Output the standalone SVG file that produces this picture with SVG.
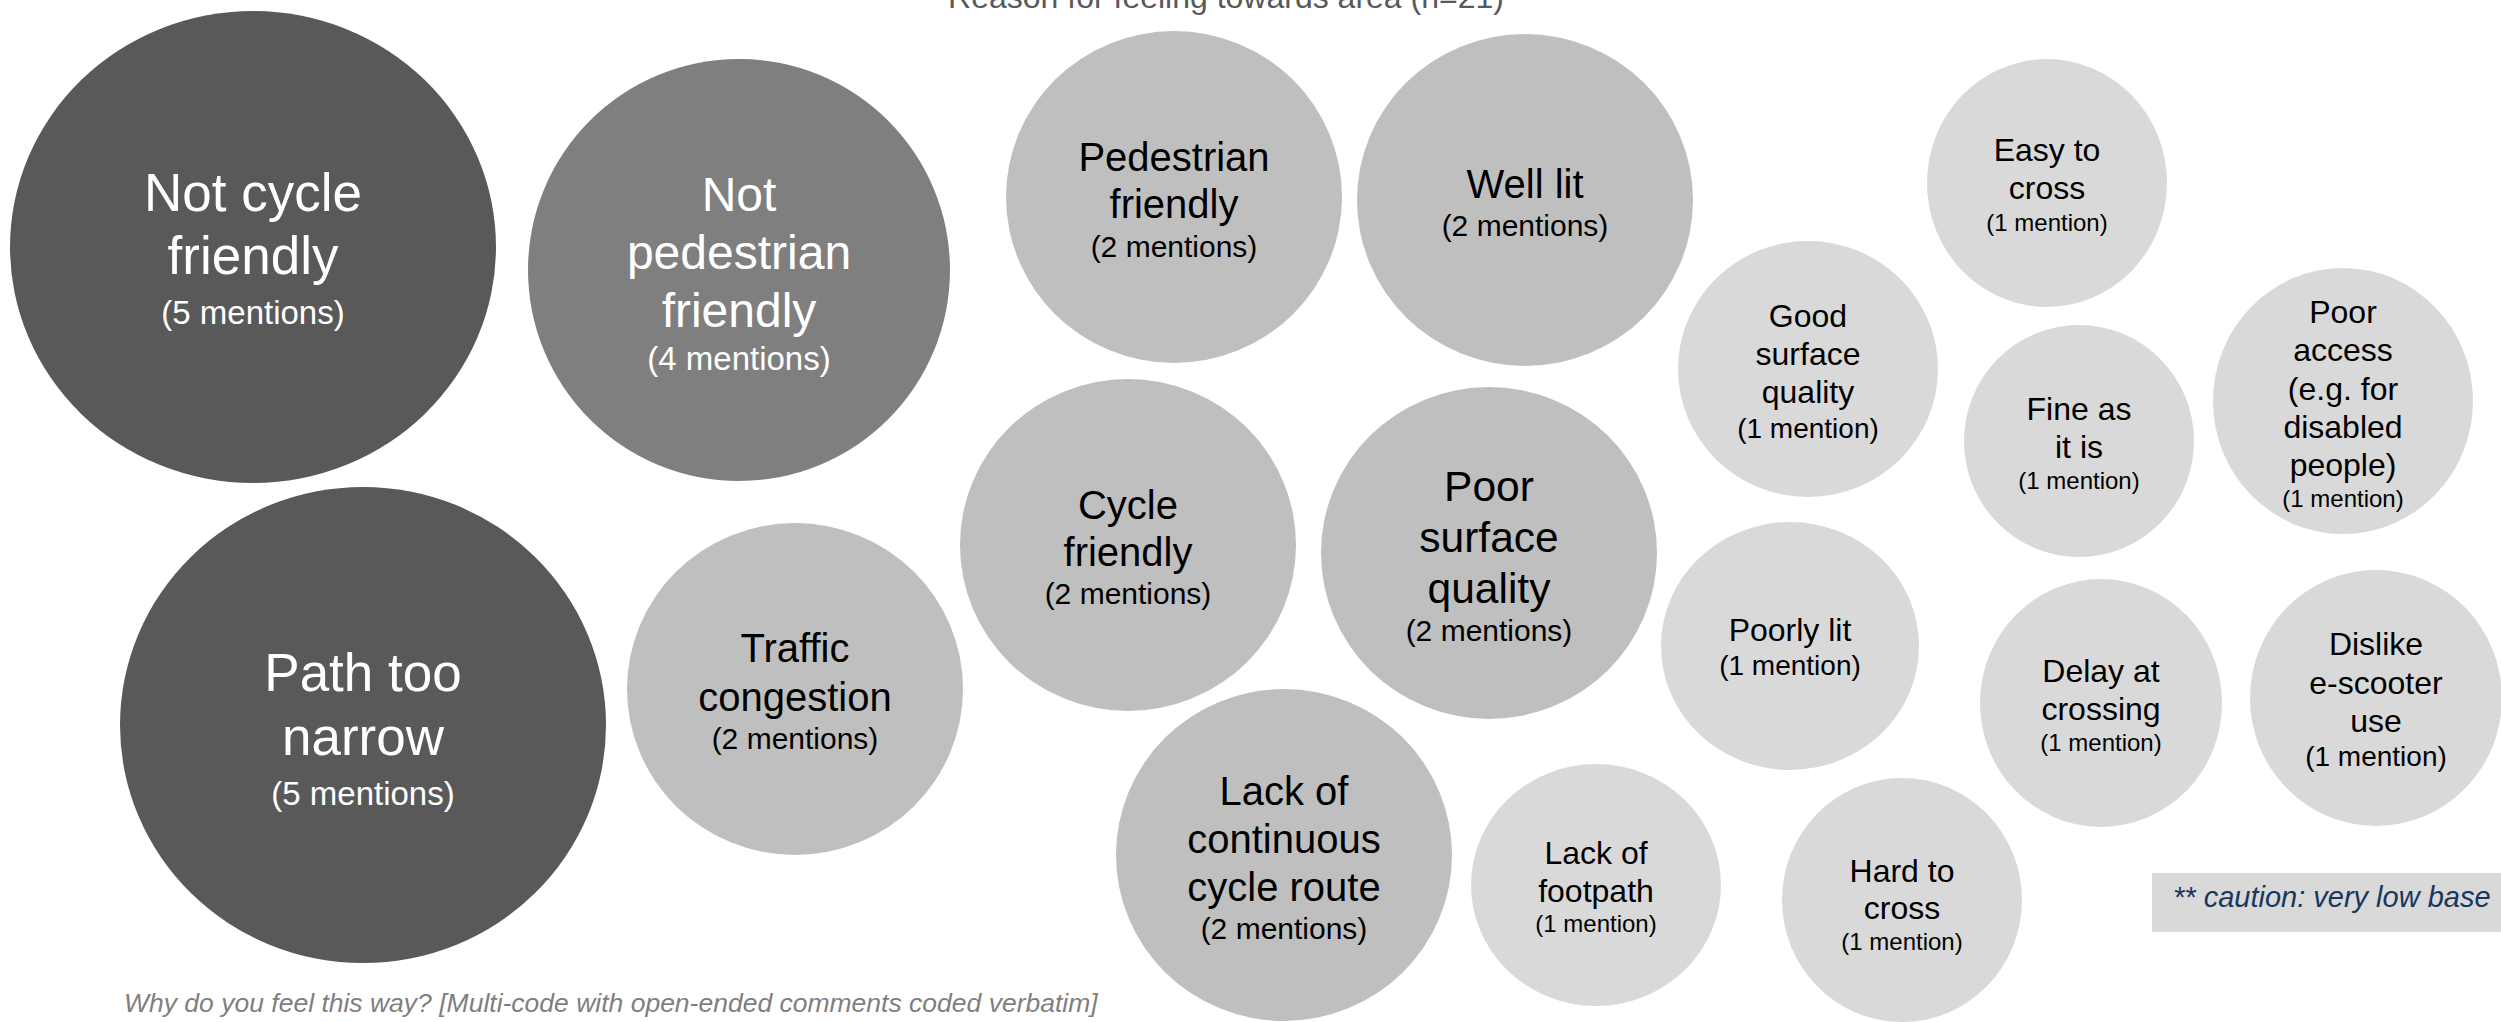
<svg xmlns="http://www.w3.org/2000/svg" width="2501" height="1022" viewBox="0 0 2501 1022">
<style>
text{font-family:"Liberation Sans",Arial,sans-serif;text-anchor:middle}
.d5{fill:#595959}.d4{fill:#7f7f7f}.d2{fill:#bfbfbf}.d1{fill:#d9d9d9}
.w{fill:#ffffff}.k{fill:#000000}
.f53{font-size:53px}.f48{font-size:48px}.f42{font-size:42.5px}.f40{font-size:40px}.f33{font-size:33px}.f32{font-size:32px}.f30{font-size:30px}.f28{font-size:28px}.f24{font-size:24px}
.title{font-size:32px;fill:#595959}
.foot{font-size:26.5px;fill:#7f7f7f;font-style:italic;text-anchor:start}
.cap{font-size:29px;fill:#17375e;font-style:italic;text-anchor:start}
</style>
<rect width="2501" height="1022" fill="#ffffff"/>
<text class="title" x="1226" y="8">Reason for feeling towards area (n=21)</text>

<g id="not-cycle-friendly">
<ellipse class="d5" cx="253" cy="247" rx="243" ry="236"/>
<text class="w f53" x="253" y="211">Not cycle</text>
<text class="w f53" x="253" y="274">friendly</text>
<text class="w f33" x="253" y="324">(5 mentions)</text>
</g>
<g id="not-pedestrian-friendly">
<ellipse class="d4" cx="739" cy="270" rx="211" ry="211"/>
<text class="w f48" x="739" y="211">Not</text>
<text class="w f48" x="739" y="269">pedestrian</text>
<text class="w f48" x="739" y="327">friendly</text>
<text class="w f33" x="739" y="370">(4 mentions)</text>
</g>
<g id="path-too-narrow">
<ellipse class="d5" cx="363" cy="725" rx="243" ry="238"/>
<text class="w f53" x="363" y="691">Path too</text>
<text class="w f53" x="363" y="755">narrow</text>
<text class="w f33" x="363" y="805">(5 mentions)</text>
</g>
<g id="traffic-congestion">
<ellipse class="d2" cx="795" cy="689" rx="168" ry="166"/>
<text class="k f40" x="795" y="662">Traffic</text>
<text class="k f40" x="795" y="711">congestion</text>
<text class="k f30" x="795" y="749">(2 mentions)</text>
</g>
<g id="pedestrian-friendly">
<ellipse class="d2" cx="1174" cy="197" rx="168" ry="166"/>
<text class="k f40" x="1174" y="171">Pedestrian</text>
<text class="k f40" x="1174" y="218">friendly</text>
<text class="k f30" x="1174" y="257">(2 mentions)</text>
</g>
<g id="well-lit">
<ellipse class="d2" cx="1525" cy="200" rx="168" ry="166"/>
<text class="k f40" x="1525" y="198">Well lit</text>
<text class="k f30" x="1525" y="236">(2 mentions)</text>
</g>
<g id="cycle-friendly">
<ellipse class="d2" cx="1128" cy="545" rx="168" ry="166"/>
<text class="k f40" x="1128" y="519">Cycle</text>
<text class="k f40" x="1128" y="566">friendly</text>
<text class="k f30" x="1128" y="604">(2 mentions)</text>
</g>
<g id="poor-surface-quality">
<ellipse class="d2" cx="1489" cy="553" rx="168" ry="166"/>
<text class="k f42" x="1489" y="501">Poor</text>
<text class="k f42" x="1489" y="552">surface</text>
<text class="k f42" x="1489" y="603">quality</text>
<text class="k f30" x="1489" y="641">(2 mentions)</text>
</g>
<g id="lack-of-continuous-cycle-route">
<ellipse class="d2" cx="1284" cy="855" rx="168" ry="166"/>
<text class="k f40" x="1284" y="805">Lack of</text>
<text class="k f40" x="1284" y="853">continuous</text>
<text class="k f40" x="1284" y="901">cycle route</text>
<text class="k f30" x="1284" y="939">(2 mentions)</text>
</g>
<g id="lack-of-footpath">
<ellipse class="d1" cx="1596" cy="885" rx="125" ry="121"/>
<text class="k f32" x="1596" y="864">Lack of</text>
<text class="k f32" x="1596" y="902">footpath</text>
<text class="k f24" x="1596" y="932">(1 mention)</text>
</g>
<g id="hard-to-cross">
<ellipse class="d1" cx="1902" cy="900" rx="120" ry="122"/>
<text class="k f32" x="1902" y="882">Hard to</text>
<text class="k f32" x="1902" y="919">cross</text>
<text class="k f24" x="1902" y="950">(1 mention)</text>
</g>
<g id="poorly-lit">
<ellipse class="d1" cx="1790" cy="646" rx="129" ry="124"/>
<text class="k f32" x="1790" y="641">Poorly lit</text>
<text class="k f28" x="1790" y="675">(1 mention)</text>
</g>
<g id="good-surface-quality">
<ellipse class="d1" cx="1808" cy="369" rx="130" ry="128"/>
<text class="k f32" x="1808" y="327">Good</text>
<text class="k f32" x="1808" y="365">surface</text>
<text class="k f32" x="1808" y="403">quality</text>
<text class="k f28" x="1808" y="438">(1 mention)</text>
</g>
<g id="easy-to-cross">
<ellipse class="d1" cx="2047" cy="183" rx="120" ry="124"/>
<text class="k f32" x="2047" y="161">Easy to</text>
<text class="k f32" x="2047" y="199">cross</text>
<text class="k f24" x="2047" y="231">(1 mention)</text>
</g>
<g id="fine-as-it-is">
<ellipse class="d1" cx="2079" cy="441" rx="115" ry="116"/>
<text class="k f32" x="2079" y="420">Fine as</text>
<text class="k f32" x="2079" y="458">it is</text>
<text class="k f24" x="2079" y="489">(1 mention)</text>
</g>
<g id="poor-access">
<ellipse class="d1" cx="2343" cy="401" rx="130" ry="133"/>
<text class="k f32" x="2343" y="323">Poor</text>
<text class="k f32" x="2343" y="361">access</text>
<text class="k f32" x="2343" y="400">(e.g. for</text>
<text class="k f32" x="2343" y="438">disabled</text>
<text class="k f32" x="2343" y="476">people)</text>
<text class="k f24" x="2343" y="507">(1 mention)</text>
</g>
<g id="delay-at-crossing">
<ellipse class="d1" cx="2101" cy="703" rx="121" ry="124"/>
<text class="k f32" x="2101" y="682">Delay at</text>
<text class="k f32" x="2101" y="720">crossing</text>
<text class="k f24" x="2101" y="751">(1 mention)</text>
</g>
<g id="dislike-e-scooter-use">
<ellipse class="d1" cx="2376" cy="698" rx="126" ry="128"/>
<text class="k f32" x="2376" y="655">Dislike</text>
<text class="k f32" x="2376" y="694">e-scooter</text>
<text class="k f32" x="2376" y="732">use</text>
<text class="k f28" x="2376" y="766">(1 mention)</text>
</g>

<g id="connectors"/>

<g id="caution-note">
<rect x="2152" y="873" width="349" height="59" fill="#d9d9d9"/>
<text class="cap" x="2173" y="907">** caution: very low base</text>
</g>
<text class="foot" x="124" y="1012">Why do you feel this way? [Multi-code with open-ended comments coded verbatim]</text>
</svg>
